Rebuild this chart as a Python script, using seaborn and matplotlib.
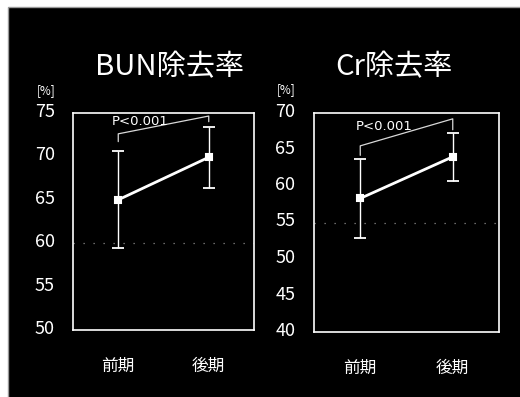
import matplotlib
matplotlib.use("Agg")
import matplotlib.pyplot as plt
import matplotlib.transforms as mtransforms
from matplotlib.patches import Rectangle
import seaborn as sns

# Removal rates (mean ± SD) for the two treatment periods
periods = ["前期", "後期"]
bun_mean = [65.0, 69.9]
bun_sd = [5.6, 3.5]
cr_mean = [58.3, 64.0]
cr_sd = [5.4, 3.3]
bun_ticks = [50, 55, 60, 65, 70, 75]
cr_ticks = [40, 45, 50, 55, 60, 65, 70]
titles = ["BUN除去率", "Cr除去率"]
p_text = "P<0.001"
unit_text = "[%]"

sns.set_style("dark", {"axes.facecolor": "black", "figure.facecolor": "white"})
plt.rcParams["font.family"] = ["Noto Sans CJK JP", "DejaVu Sans"]

W, H = 520, 397
fig = plt.figure(figsize=(W / 100, H / 100), dpi=100)

# black slide background with a thin grey edge on the top and left
fig.patches.append(Rectangle((8 / W, -0.05), 1.1, 1.05 - 7 / H, transform=fig.transFigure,
                             facecolor="black", edgecolor="#9a9a9a", lw=1, zorder=-10))


def px_axes(x0, y0, x1, y1):
    return fig.add_axes([x0 / W, 1 - y1 / H, (x1 - x0) / W, (y1 - y0) / H])


def panel(ax, means, sds, ticks, ref, bracket, ptext_xy, ylab_pad):
    sns.pointplot(x=periods, y=means, ax=ax, color="white", markers="s",
                  errorbar=None, linewidth=2, markersize=5, zorder=4)
    ax.errorbar(range(len(periods)), means, yerr=sds, fmt="none", ecolor="white",
                elinewidth=1, capsize=4, capthick=1.3, zorder=3)
    ax.axhline(ref, color="#8a8a8a", lw=0.9, ls=(0, (1, 7)), zorder=1)
    bx = [0, 0, 1, 1]
    ax.plot(bx, bracket, color="#d8d8d8", lw=0.9, zorder=2)
    ax.text(ptext_xy[0], ptext_xy[1], p_text, color="white", fontsize=9.5,
            ha="center", va="center", family=["DejaVu Sans"], zorder=5)
    ax.set_xlim(-0.5, 1.5)
    ax.set_ylim(ticks[0], ticks[-1])
    ax.set_yticks(ticks)
    ax.set_xlabel("")
    ax.set_ylabel("")
    ax.set_facecolor("black")
    ax.grid(False)
    for s in ax.spines.values():
        s.set_visible(True)
        s.set_color("white")
        s.set_linewidth(1.2)
    ax.tick_params(axis="y", length=0, colors="white", labelsize=13, pad=ylab_pad)
    ax.tick_params(axis="x", length=0, colors="white", labelsize=12, pad=20)
    shift = mtransforms.ScaledTranslation(0, 3 / 100, fig.dpi_scale_trans)
    for lbl in ax.get_yticklabels():
        lbl.set_transform(lbl.get_transform() + shift)


ax1 = px_axes(73, 113, 254, 330)
panel(ax1, bun_mean, bun_sd, bun_ticks, 60, [71.7, 72.6, 74.65, 74.0], (0.24, 74.0), 13)

ax2 = px_axes(314, 113, 499, 332)
panel(ax2, cr_mean, cr_sd, cr_ticks, 55, [64.2, 65.5, 69.2, 67.7], (0.26, 68.2), 13.5)

fig.text(169 / W, 1 - 67 / H, titles[0], color="white", fontsize=21, ha="center", va="center")
fig.text(394 / W, 1 - 67 / H, titles[1], color="white", fontsize=21, ha="center", va="center")
fig.text(55 / W, 1 - 91 / H, unit_text, color="white", fontsize=8.5, ha="right", va="center")
fig.text(295 / W, 1 - 90 / H, unit_text, color="white", fontsize=8.5, ha="right", va="center")

fig.savefig("out.png", dpi=100)
